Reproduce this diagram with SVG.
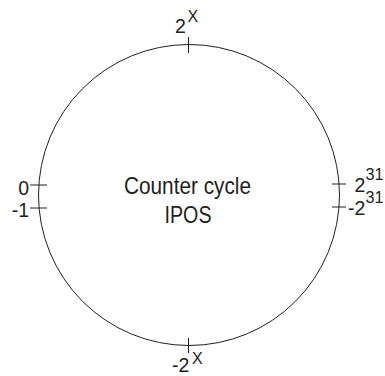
<svg xmlns="http://www.w3.org/2000/svg" width="385" height="376" viewBox="0 0 385 376">
<style>
.ln{stroke:#231f20;stroke-width:1;fill:none}
.t{font-family:"Liberation Sans",Arial,sans-serif;fill:#231f20}
.lab{font-size:19.5px}
.sup{font-size:16px}
.c{font-size:24px;text-anchor:middle}
</style>
<rect width="385" height="376" fill="#fff"/>
<g id="cycle">
<circle class="ln" cx="189" cy="195" r="150.5"/>
<text class="t c" x="187.5" y="194" textLength="127" lengthAdjust="spacingAndGlyphs">Counter cycle</text>
<text class="t c" x="188" y="223" textLength="47" lengthAdjust="spacingAndGlyphs">IPOS</text>
</g>
<g id="ticks">
<line class="ln" x1="188.5" y1="37" x2="188.5" y2="53"/>
<line class="ln" x1="188.5" y1="338" x2="188.5" y2="353"/>
<line class="ln" x1="30" y1="185" x2="47" y2="185"/>
<line class="ln" x1="30" y1="208" x2="47" y2="208"/>
<line class="ln" x1="332" y1="184" x2="346" y2="184"/>
<line class="ln" x1="332" y1="207" x2="346" y2="207"/>
</g>
<g id="labels">
<text class="t lab" x="175" y="33">2</text><text class="t sup" x="187.5" y="22">X</text>
<text class="t lab" x="29" y="195" text-anchor="end">0</text>
<text class="t lab" x="29" y="217" text-anchor="end">-1</text>
<text class="t lab" x="354.5" y="192">2</text><text class="t sup" x="365.5" y="180" textLength="18" lengthAdjust="spacingAndGlyphs">31</text>
<text class="t lab" x="348" y="215">-2</text><text class="t sup" x="365.5" y="203" textLength="18" lengthAdjust="spacingAndGlyphs">31</text>
<text class="t lab" x="172" y="372">-2</text><text class="t sup" x="192" y="364">X</text>
</g>
</svg>
